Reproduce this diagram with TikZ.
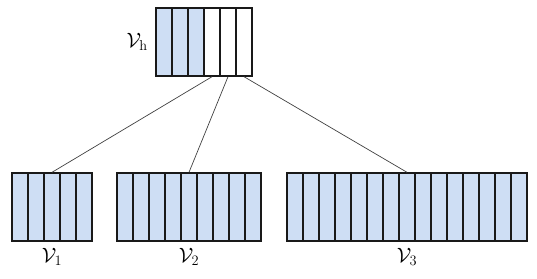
\documentclass[tikz,border=0pt]{standalone}
\usepackage{amsmath}
\usetikzlibrary{positioning}
\definecolor{cellblue}{RGB}{206,222,244}

\begin{document}
\begin{tikzpicture}[
    x=1pt, y=-1pt,
    node distance=2pt,
    every node/.style={font=\fontsize{21}{25}\selectfont},
    cell/.style={draw=black!90, line width=1.4pt, minimum width=16pt, minimum height=68pt, inner sep=0pt},
    full/.style={cell, fill=cellblue},
    link/.style={draw=black!75, line width=0.7pt}
]
\useasboundingbox (0,0) rectangle (537,278);

% Hierarchy vocabulary (half filled)
\foreach \i in {1,...,6} {
    \ifnum\i<4
        \node[full] (h\i) at ({148+16*\i},42) {};
    \else
        \node[cell, fill=white] (h\i) at ({148+16*\i},42) {};
    \fi
}
\node[left=4pt of h1] (vh) {$\mathcal{V}_{\mathrm{h}}$};

% First vocabulary
\foreach \i in {1,...,5}
    \node[full] (a\i) at ({4+16*\i},207) {};
\node[below=3pt of a3] (v1) {$\mathcal{V}_1$};

% Second vocabulary
\foreach \i in {1,...,9}
    \node[full] (b\i) at ({109+16*\i},207) {};
\node[below=3pt of b5] (v2) {$\mathcal{V}_2$};

% Third vocabulary
\foreach \i in {1,...,15}
    \node[full] (c\i) at ({279+16*\i},207) {};
\node[below=3pt of c8] (v3) {$\mathcal{V}_3$};

% Links
\draw[link] (h4.south) -- (a3.north);
\draw[link] (h5.south) -- (b5.north);
\draw[link] (h6.south) -- (c8.north);

\end{tikzpicture}
\end{document}
